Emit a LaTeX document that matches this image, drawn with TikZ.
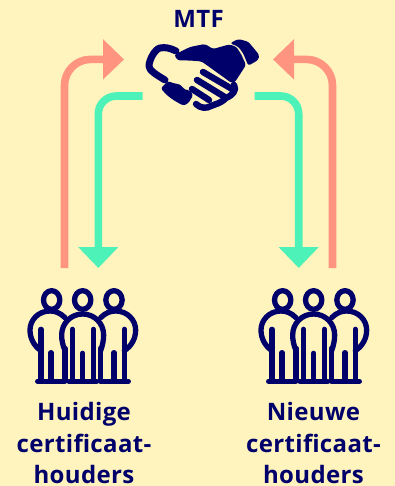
\documentclass[tikz,border=0pt]{standalone}
\usepackage{fontspec}
\setmainfont{Open Sans}[LetterSpace=1.5]
\usetikzlibrary{arrows.meta}
\definecolor{bgc}{HTML}{FFF3BE}
\definecolor{salmon}{HTML}{FF9480}
\definecolor{mint}{HTML}{4DF2B8}
\definecolor{navy}{HTML}{00006B}
\tikzset{
  conn/.style={line width=7.6pt, -{Triangle[width=39pt,length=21pt]}},
  back/.style={conn,color=salmon,rounded corners=26pt},
  forth/.style={conn,color=mint,rounded corners=18pt},
  lbl/.style={text=navy,font=\bfseries\fontsize{24}{31.6}\selectfont,align=center,inner sep=0pt},
  ic/.style={draw=navy,line width=5.3pt,line cap=round,line join=round},
  hand/.style={draw=navy,line width=6.4pt,line cap=round,line join=round},
  palm/.style={fill=navy,rounded corners=2.5pt},
  pics/people/.style={code={
    \begin{scope}[x=0.3333pt,y=0.3333pt]
      \foreach \cx in {125,218,312}{\draw[ic] (\cx,-60) ellipse [x radius=24.5,y radius=28];}
      \draw[ic] (165,-113) .. controls (150,-98) and (135,-93) .. (120,-93) .. controls (85,-93) and (60,-120) .. (60,-150) .. controls (60,-175) and (72,-198) .. (93,-212);
      \draw[ic] (272,-113) .. controls (287,-98) and (302,-93) .. (317,-93) .. controls (352,-93) and (377,-120) .. (377,-150) .. controls (377,-175) and (365,-198) .. (343,-212);
      \draw[ic] (165,-212) .. controls (158,-195) and (155,-180) .. (155,-165) .. controls (155,-130) and (183,-102) .. (218,-102) .. controls (253,-102) and (281,-130) .. (281,-165) .. controls (281,-180) and (278,-195) .. (272,-212);
      \foreach \lx/\ty in {93/148,123/218,165/205,187/148,218/220,250/148,272/205,312/218,343/148}{\draw[ic] (\lx,-\ty) -- (\lx,-303);}
      \foreach \ax/\bx in {83/163,177/260,272/355}{\draw[ic] (\ax,-304) -- (\bx,-304);}
    \end{scope}}}
}
\begin{document}
\begin{tikzpicture}[x=1pt,y=-1pt]
\useasboundingbox[fill=bgc] (0,0) rectangle (395,486);
\node[lbl,anchor=base] (mtf) at (198.5,28) {MTF};
\coordinate (hl) at (124,59.4);
\coordinate (hr) at (273,59.4);
\coordinate (sl) at (142.5,96);
\coordinate (sr) at (254.5,96);
\coordinate (pl) at (98.3,268);
\coordinate (pr) at (298.7,268);
\coordinate (ql) at (64.5,268);
\coordinate (qr) at (332.5,268);
\draw[back] (ql) |- (hl);
\draw[back] (qr) |- (hr);
\draw[forth] (sl) -| (pl);
\draw[forth] (sr) -| (pr);
% handshake
\draw[hand,line width=7pt] (176,51) .. controls (170,48) and (165,47) .. (160,48) .. controls (155,49) and (149,60) .. (149,66) .. controls (149,70) and (155,74) .. (165,80);
\fill[palm] (160.7,88.3) -- (168.3,81) -- (173.3,83.3) -- (180,84.3) -- (185,90) -- (189.3,90) -- (193.3,95) -- (188.3,103.3) -- (183.3,105.7) -- (173.3,100) -- (166.7,95) -- cycle;
\fill[palm] (174,55) -- (190,47) -- (205,44) -- (213,49) -- (229,44.5) -- (236,46.5) -- (241,54) -- (246,65) -- (235,82) -- (232,83.3) -- (201.7,61.5) -- (190,60.5) -- (178,60.5) -- cycle;
\fill[palm] (230,43.3) -- (238.3,39) -- (248.3,41.7) -- (259.3,55) -- (258.3,60) -- (248.3,65.7) -- (243,53) -- (238,46.5) -- cycle;
\draw[hand] (203,72) -- (232,89);
\draw[hand] (197,80) -- (224,96.5);
\draw[hand] (192,89) -- (209,100);
\draw[hand] (234,85) .. controls (237,90) and (233,95) .. (226,98) .. controls (220,104) and (215,104) .. (211,106) .. controls (206,109) and (200,108) .. (196,104);
\pic (pa) at (10,280) {people};
\pic (pb) at (241,280) {people};
\node[lbl] (lefttext) at (84,443) {Huidige\\certificaat-\\houders};
\node[lbl] (righttext) at (313.5,443) {Nieuwe\\certificaat-\\houders};
\end{tikzpicture}
\end{document}
